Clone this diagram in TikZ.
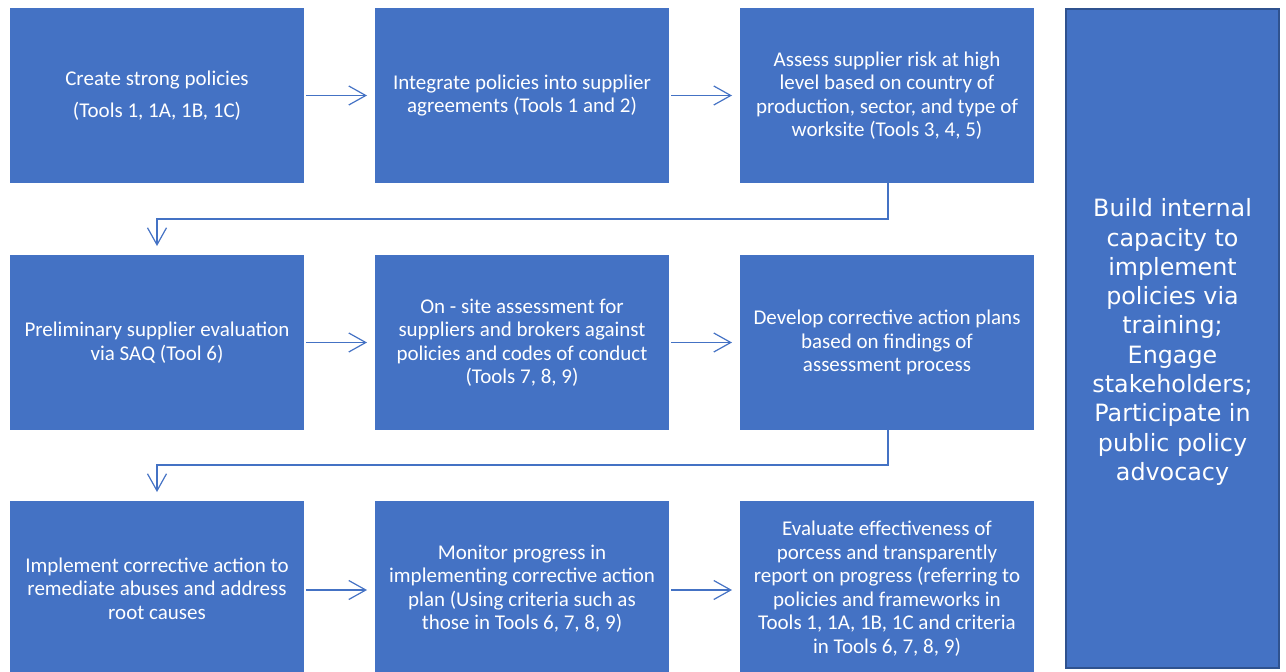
\documentclass[tikz,border=0pt]{standalone}
\usepackage{fontspec}
\setmainfont{Carlito}
\newfontfamily\dejavu{DejaVu Sans}
\usetikzlibrary{arrows.meta}
\definecolor{boxblue}{HTML}{4472C4}
\definecolor{edgeblue}{HTML}{2F528F}
\tikzset{
  stepbox/.style={fill=boxblue, text=white, align=center, inner sep=0pt, outer sep=0pt,
    minimum width=294pt, minimum height=175pt, anchor=north west,
    font=\fontsize{21}{23.5}\selectfont},
  sidebox/.style={fill=boxblue, draw=edgeblue, line width=2pt,
    inner sep=0pt, outer sep=0pt, minimum width=213pt, minimum height=659pt, anchor=north west},
  sidetext/.style={text=white, align=center, inner sep=0pt,
    font=\dejavu\fontsize{23.8}{29.3}\selectfont},
  arr/.style={draw=boxblue, line width=1.2pt, -{Straight Barb[length=17pt,width=19pt]}}
}
\begin{document}
\begin{tikzpicture}[x=1pt,y=-1pt]
\useasboundingbox (0,0) rectangle (1286,672);
\node[stepbox] (a1) at (10,8) {Create strong policies\\[8pt](Tools 1, 1A, 1B, 1C)};
\node[stepbox] (a2) at (375,8) {Integrate policies into supplier\\agreements (Tools 1 and 2)};
\node[stepbox] (a3) at (740,8) {Assess supplier risk at high\\level based on country of\\production, sector, and type of\\worksite (Tools 3, 4, 5)};
\node[stepbox] (b1) at (10,255) {Preliminary supplier evaluation\\via SAQ (Tool 6)};
\node[stepbox] (b2) at (375,255) {On - site assessment for\\suppliers and brokers against\\policies and codes of conduct\\(Tools 7, 8, 9)};
\node[stepbox] (b3) at (740,255) {Develop corrective action plans\\based on findings of\\assessment process};
\node[stepbox] (c1) at (10,501) {Implement corrective action to\\remediate abuses and address\\root causes};
\node[stepbox] (c2) at (375,501) {Monitor progress in\\implementing corrective action\\plan (Using criteria such as\\those in Tools 6, 7, 8, 9)};
\node[stepbox] (c3) at (740,501) {Evaluate effectiveness of\\porcess and transparently\\report on progress (referring to\\policies and frameworks in\\Tools 1, 1A, 1B, 1C and criteria\\in Tools 6, 7, 8, 9)};
\node[sidebox] (r) at (1066,9) {};
\node[sidetext] (rt) at ([yshift=-3.5pt]r.center) {Build internal\\capacity to\\implement\\policies via\\training;\\Engage\\stakeholders;\\Participate in\\public policy\\advocacy};
\draw[arr] ([xshift=2pt]a1.east) -- ([xshift=-8pt]a2.west);
\draw[arr] ([xshift=2pt]a2.east) -- ([xshift=-8pt]a3.west);
\draw[arr] ([xshift=2pt]b1.east) -- ([xshift=-8pt]b2.west);
\draw[arr] ([xshift=2pt]b2.east) -- ([xshift=-8pt]b3.west);
\draw[arr] ([xshift=2pt,yshift=-1.5pt]c1.east) -- ([xshift=-8pt,yshift=-1.5pt]c2.west);
\draw[arr] ([xshift=2pt,yshift=-1.5pt]c2.east) -- ([xshift=-8pt,yshift=-1.5pt]c3.west);
\draw[arr] ([xshift=1pt]a3.south) -- ++(0,36) -| ([yshift=9pt]b1.north);
\draw[arr] ([xshift=1pt]b3.south) -- ++(0,35) -| ([yshift=9pt]c1.north);
\end{tikzpicture}
\end{document}
